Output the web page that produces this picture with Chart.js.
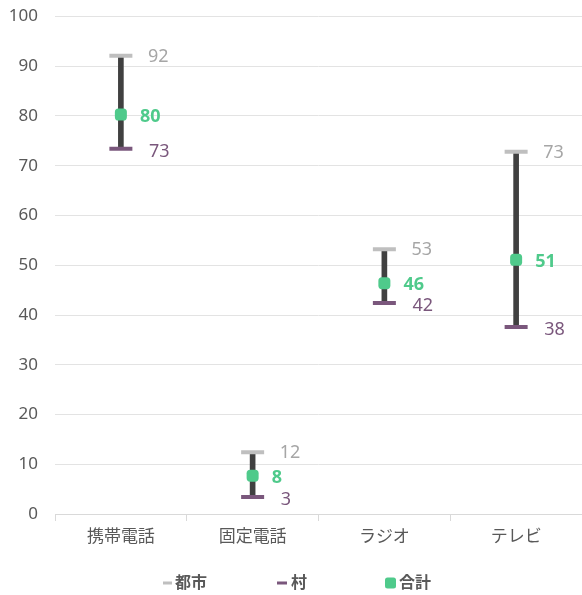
<!DOCTYPE html>
<html>
<head>
<meta charset="utf-8">
<style>
  html, body { margin: 0; padding: 0; background: #ffffff; }
  #wrap { width: 582px; height: 595px; position: relative; }
</style>
<script src="https://cdn.jsdelivr.net/npm/chart.js@4"></script>
</head>
<body>
<div id="wrap"><canvas id="chart"></canvas></div>
<script>
// Media usage by area (%)
const categories = ['携帯電話', '固定電話', 'ラジオ', 'テレビ'];
const cityValues = [92.1, 12.4, 53.2, 72.8];     // 都市
const villageValues = [73.4, 3.4, 42.4, 37.6];   // 村
const totalValues = [80.3, 7.7, 46.4, 51.1];     // 合計
const yTicks = [0, 10, 20, 30, 40, 50, 60, 70, 80, 90, 100];

const FONT = '"Noto Sans", "Noto Sans CJK JP", sans-serif';
const TEXT = '#595959';
const CITY = '#bfbfbf';
const VILLAGE = '#7a577c';
const TOTAL = '#4fca8b';
const RANGE = '#404040';

// Range bar from village to city for each category
const rangeValues = categories.map((_, i) => [villageValues[i], cityValues[i]]);

// Value labels next to each marker
const valueLabels = {
  id: 'valueLabels',
  afterDatasetsDraw(chart) {
    const ctx = chart.ctx;
    const specs = [
      { idx: 0, dx: 27, dy: 1, color: '#a6a6a6', weight: 'normal' },
      { idx: 1, dx: 28, dy: 3, color: VILLAGE, weight: 'normal' },
      { idx: 2, dx: 19, dy: 2, color: TOTAL, weight: 'bold' }
    ];
    ctx.save();
    ctx.textAlign = 'left';
    ctx.textBaseline = 'middle';
    specs.forEach(s => {
      const ds = chart.data.datasets[s.idx];
      const meta = chart.getDatasetMeta(s.idx);
      ctx.font = s.weight + ' 18px ' + FONT;
      ctx.fillStyle = s.color;
      meta.data.forEach((pt, i) => {
        ctx.fillText(String(Math.round(ds.data[i])), pt.x + s.dx, pt.y + s.dy);
      });
    });
    ctx.restore();
  }
};

// Bottom legend with wide spacing between the three series
const seriesLegend = {
  id: 'seriesLegend',
  afterDraw(chart) {
    const ctx = chart.ctx;
    const y = 583;
    const items = [
      { idx: 0, x: 163, kind: 'dash' },
      { idx: 1, x: 277, kind: 'dash' },
      { idx: 2, x: 385, kind: 'box' }
    ];
    ctx.save();
    ctx.font = 'bold 16px ' + FONT;
    ctx.textAlign = 'left';
    ctx.textBaseline = 'middle';
    items.forEach(it => {
      const ds = chart.data.datasets[it.idx];
      let tx;
      if (it.kind === 'dash') {
        ctx.fillStyle = ds.borderColor;
        ctx.fillRect(it.x, y - 1.5, it.idx === 0 ? 9 : 10, 3);
        tx = it.x + (it.idx === 0 ? 12 : 14);
      } else {
        ctx.fillStyle = ds.backgroundColor;
        ctx.beginPath();
        ctx.roundRect(it.x, y - 5.5, 11, 11, 2.5);
        ctx.fill();
        tx = it.x + 14;
      }
      ctx.fillStyle = TEXT;
      ctx.fillText(ds.label, tx, y);
    });
    ctx.restore();
  }
};

new Chart(document.getElementById('chart'), {
  type: 'bar',
  data: {
    labels: categories,
    datasets: [
      {
        type: 'line', label: '都市', data: cityValues, order: 1,
        showLine: false, pointStyle: 'line', pointRadius: 11.5, pointHoverRadius: 11.5,
        borderColor: CITY, backgroundColor: CITY, borderWidth: 4, pointBorderWidth: 4
      },
      {
        type: 'line', label: '村', data: villageValues, order: 2,
        showLine: false, pointStyle: 'line', pointRadius: 11.5, pointHoverRadius: 11.5,
        borderColor: VILLAGE, backgroundColor: VILLAGE, borderWidth: 4, pointBorderWidth: 4
      },
      {
        type: 'line', label: '合計', data: totalValues, order: 0,
        showLine: false, pointStyle: 'rectRounded', pointRadius: 7, pointHoverRadius: 7,
        borderColor: TOTAL, backgroundColor: TOTAL, borderWidth: 0, pointBorderWidth: 0
      },
      {
        type: 'bar', label: 'range', data: rangeValues, order: 3,
        backgroundColor: RANGE, borderWidth: 0, barThickness: 5, borderSkipped: false
      }
    ]
  },
  options: {
    responsive: true,
    maintainAspectRatio: false,
    animation: false,
    layout: { autoPadding: false, padding: { top: 0, right: -6, left: 8, bottom: 50 } },
    plugins: {
      tooltip: { enabled: false },
      legend: { display: false }
    },
    scales: {
      x: {
        offset: true,
        grid: { display: true, drawOnChartArea: false, offset: true, tickLength: 7, color: '#d9d9d9' },
        border: { display: true, color: '#d9d9d9' },
        ticks: { color: TEXT, font: { family: FONT, size: 17 }, padding: 6 },
        afterFit: axis => { axis.paddingLeft = 0; axis.paddingRight = 0; axis.height = 31; }
      },
      y: {
        min: 0, max: 100,
        afterBuildTicks: axis => { axis.ticks = yTicks.map(v => ({ value: v })); },
        grid: { color: '#e3e3e3', drawTicks: false },
        border: { display: false },
        ticks: { color: TEXT, font: { family: FONT, size: 17 }, padding: 17 },
        afterFit: axis => { axis.width = 47; axis.paddingTop = 16.5; axis.paddingBottom = 0; }
      }
    }
  },
  plugins: [valueLabels, seriesLegend]
});
</script>
</body>
</html>
